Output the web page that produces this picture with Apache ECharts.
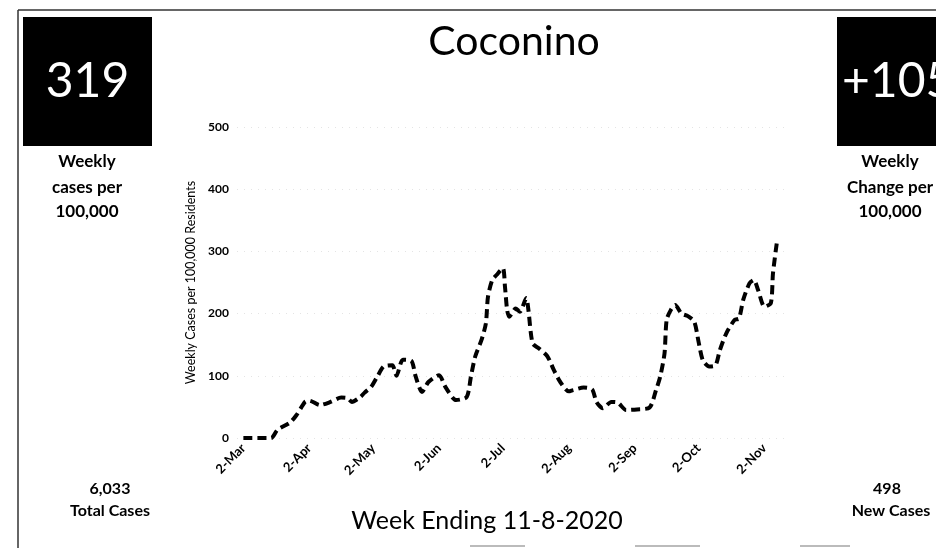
<!DOCTYPE html>
<html>
<head>
<meta charset="utf-8">
<title>Coconino</title>
<script src="https://cdn.jsdelivr.net/npm/echarts@6.0.0/dist/echarts.min.js"></script>
<style>
  html, body { margin: 0; padding: 0; background: #fff; }
  #chart { width: 936px; height: 548px; }
</style>
</head>
<body>
<div id="chart"></div>
<script>
// weekly cases per 100,000
var dates = [
  '2020-03-02', '2020-03-15', '2020-03-18', '2020-03-24', '2020-03-27', '2020-03-31',
  '2020-04-02', '2020-04-07', '2020-04-12', '2020-04-17', '2020-04-20', '2020-04-22', '2020-04-26', '2020-04-28',
  '2020-05-01', '2020-05-04', '2020-05-07', '2020-05-11', '2020-05-13', '2020-05-16', '2020-05-20', '2020-05-22', '2020-05-25', '2020-05-28',
  '2020-06-02', '2020-06-05', '2020-06-10', '2020-06-15', '2020-06-17', '2020-06-19', '2020-06-22', '2020-06-24', '2020-06-25', '2020-06-27', '2020-06-29',
  '2020-07-02', '2020-07-03', '2020-07-04', '2020-07-05', '2020-07-08', '2020-07-10', '2020-07-13', '2020-07-14', '2020-07-16', '2020-07-19', '2020-07-23', '2020-07-26', '2020-07-29',
  '2020-08-02', '2020-08-04', '2020-08-09', '2020-08-13', '2020-08-15', '2020-08-18', '2020-08-22', '2020-08-25', '2020-08-29',
  '2020-09-03', '2020-09-09', '2020-09-12', '2020-09-14', '2020-09-16', '2020-09-17', '2020-09-19', '2020-09-21', '2020-09-24', '2020-09-27', '2020-09-30',
  '2020-10-02', '2020-10-04', '2020-10-07', '2020-10-10', '2020-10-12', '2020-10-15', '2020-10-19', '2020-10-21', '2020-10-23', '2020-10-26', '2020-10-28', '2020-10-30',
  '2020-11-02', '2020-11-05', '2020-11-06', '2020-11-08'
]
var weeklyCases = [
  0, 0, 13, 25, 37, 58,
  60, 53, 58, 65, 64, 58, 66, 73,
  82, 99, 115, 117, 100, 126, 124, 99, 74, 90,
  101, 82, 61, 66, 99, 131, 158, 184, 227, 254, 262,
  273, 243, 206, 195, 208, 203, 225, 206, 152, 144, 131, 109, 90,
  75, 77, 81, 78, 58, 48, 58, 57, 45,
  46, 49, 77, 99, 136, 190, 206, 214, 200, 196, 187,
  155, 125, 115, 117, 141, 168, 190, 192, 222, 249, 254, 238,
  211, 217, 265, 319
]
var monthNames = ['Jan', 'Feb', 'Mar', 'Apr', 'May', 'Jun', 'Jul', 'Aug', 'Sep', 'Oct', 'Nov', 'Dec']
var tickDates = ['2020-03-02', '2020-04-02', '2020-05-02', '2020-06-02', '2020-07-02', '2020-08-02', '2020-09-02', '2020-10-02', '2020-11-02']
var yTicks = [0, 100, 200, 300, 400, 500]

var countyName = 'Coconino'
var weekEnding = 'Week Ending 11-8-2020'
var weeklyRate = '319'
var weeklyChange = '+105'
var totalCases = '6,033'
var newCases = '498'

var font = 'Lato, "Open Sans", sans-serif'

function toTime (s) {
  var p = s.split('-')
  return Date.UTC(+p[0], +p[1] - 1, +p[2])
}

var myChart = echarts.init(document.getElementById('chart'))

var seriesData = dates.map(function (d, i) { return [toTime(d), weeklyCases[i]] })
var tickValues = tickDates.map(toTime)

function label (x, y, text, size, weight, color, align) {
  return {
    type: 'text',
    x: x,
    y: y,
    style: {
      text: text,
      fill: color || '#000',
      font: (weight || 'normal') + ' ' + size + 'px ' + font,
      textAlign: align || 'center',
      textVerticalAlign: 'middle'
    }
  }
}

var option = {
  animation: false,
  backgroundColor: '#fff',
  grid: { left: 237, right: 146, top: 127, bottom: 110 },
  xAxis: {
    type: 'value',
    min: toTime('2020-02-28'),
    max: toTime('2020-11-14'),
    axisLine: { show: false },
    axisTick: { show: false },
    splitLine: { show: false },
    axisLabel: {
      customValues: tickValues,
      rotate: 45,
      margin: 8,
      color: '#000',
      fontFamily: font,
      fontWeight: 'bold',
      fontSize: 13,
      formatter: function (v) {
        var d = new Date(v)
        return d.getUTCDate() + '-' + monthNames[d.getUTCMonth()]
      }
    }
  },
  yAxis: {
    type: 'value',
    min: yTicks[0],
    max: yTicks[yTicks.length - 1],
    interval: 100,
    name: 'Weekly Cases per 100,000 Residents',
    nameLocation: 'middle',
    nameGap: 32,
    nameTextStyle: { color: '#000', fontFamily: font, fontSize: 12.5 },
    axisLine: { show: false },
    axisTick: { show: false },
    axisLabel: { color: '#000', fontFamily: font, fontWeight: 'bold', fontSize: 12, margin: 8 },
    splitLine: { lineStyle: { color: '#e4e4e4', type: [1, 6] } }
  },
  series: [
    {
      type: 'line',
      data: seriesData,
      showSymbol: false,
      smooth: 0.25,
      lineStyle: { color: '#000', width: 4, type: [9, 5] }
    }
  ],
  graphic: [
    // frame
    { type: 'line', shape: { x1: 18, y1: 10, x2: 18, y2: 548 }, style: { stroke: '#333', lineWidth: 1.5 } },
    { type: 'line', shape: { x1: 18, y1: 10, x2: 936, y2: 10 }, style: { stroke: '#333', lineWidth: 1.5 } },
    { type: 'line', shape: { x1: 470, y1: 546, x2: 525, y2: 546 }, style: { stroke: '#bbb', lineWidth: 2 } },
    { type: 'line', shape: { x1: 635, y1: 546, x2: 700, y2: 546 }, style: { stroke: '#bbb', lineWidth: 2 } },
    { type: 'line', shape: { x1: 800, y1: 546, x2: 850, y2: 546 }, style: { stroke: '#bbb', lineWidth: 2 } },
    // black boxes
    { type: 'rect', shape: { x: 23, y: 17, width: 129, height: 129 }, style: { fill: '#000' } },
    { type: 'rect', shape: { x: 837, y: 17, width: 129, height: 129 }, style: { fill: '#000' } },
    label(87.5, 82, weeklyRate, 48, 'normal', '#fff'),
    label(842, 82, weeklyChange, 48, 'normal', '#fff', 'left'),
    // left panel
    label(87, 162, 'Weekly', 17, 'bold'),
    label(87, 188, 'cases per', 17, 'bold'),
    label(87, 212, '100,000', 17, 'bold'),
    label(110, 489, totalCases, 16, 'bold'),
    label(110, 511, 'Total Cases', 16, 'bold'),
    // right panel
    label(890, 162, 'Weekly', 17, 'bold'),
    label(890, 188, 'Change per', 17, 'bold'),
    label(890, 212, '100,000', 17, 'bold'),
    label(887, 489, newCases, 16, 'bold'),
    label(891, 511, 'New Cases', 16, 'bold'),
    // headings
    label(514, 42, countyName, 41, 'normal'),
    label(487, 521, weekEnding, 25, 'normal')
  ]
}

myChart.setOption(option)
</script>
</body>
</html>
